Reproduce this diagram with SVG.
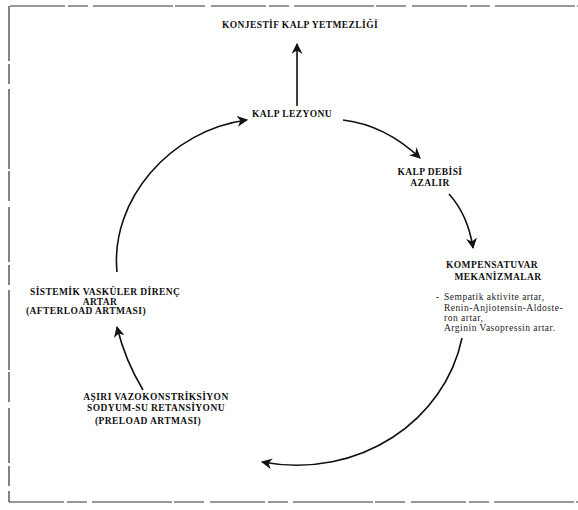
<svg xmlns="http://www.w3.org/2000/svg" width="578" height="510" viewBox="0 0 578 510">
<defs>
<marker id="ah" viewBox="0 0 10 10" refX="9" refY="5" markerWidth="11" markerHeight="11" markerUnits="userSpaceOnUse" orient="auto">
<path d="M0,0 L10,5 L0,10 L3,5 Z" fill="#111"/>
</marker>
</defs>
<style>
.t{font-family:"Liberation Serif","DejaVu Serif",serif;font-size:9.5px;font-weight:bold;letter-spacing:0.4px;fill:#111}
.n{font-family:"Liberation Serif","DejaVu Serif",serif;font-size:9.5px;letter-spacing:0.5px;fill:#222}
.c{fill:none;stroke:#111;stroke-width:1.6;marker-end:url(#ah)}
.b{fill:none;stroke:#333;stroke-width:1.2;stroke-dasharray:55 3 20 5 80 2 30 6}
</style>
<rect width="578" height="510" fill="#fff"/>
<g id="border">
<path class="b" d="M10,6 H578"/>
<path class="b" d="M9,6 V502"/>
<path class="b" d="M9,502 H578"/>
</g>
<g id="connectors">
<path class="c" d="M297,106 V44"/>
<path class="c" d="M343,120 Q385,125 420,158"/>
<path class="c" d="M449,194 Q468,215 473,248"/>
<path class="c" d="M462,338 C445,420 360,480 262,462"/>
<path class="c" d="M143,390 Q125,360 117,327"/>
<path class="c" d="M117,272 C110,200 170,130 247,120"/>
</g>
<g id="n-konjestif"><text class="t" x="300" y="28" text-anchor="middle">KONJESTİF KALP YETMEZLİĞİ</text></g>
<g id="n-lezyon"><text class="t" x="292" y="117" text-anchor="middle">KALP LEZYONU</text></g>
<g id="n-debi"><text class="t" x="430" y="175" text-anchor="middle">KALP DEBİSİ</text><text class="t" x="430" y="186" text-anchor="middle">AZALIR</text></g>
<g id="n-kompens">
<text class="t" x="492" y="268" text-anchor="middle">KOMPENSATUVAR</text>
<text class="t" x="498" y="280" text-anchor="middle">MEKANİZMALAR</text>
<text class="n" x="436" y="300">-</text>
<text class="n" x="444" y="300">Sempatik aktivite artar,</text>
<text class="n" x="444" y="311">Renin-Anjiotensin-Aldoste-</text>
<text class="n" x="444" y="321">ron artar,</text>
<text class="n" x="444" y="331">Arginin Vasopressin artar.</text>
</g>
<g id="n-sistemik">
<text class="t" x="30" y="295">SİSTEMİK VASKÜLER DİRENÇ</text>
<text class="t" x="100" y="305" text-anchor="middle">ARTAR</text>
<text class="t" x="26" y="314">(AFTERLOAD ARTMASI)</text>
</g>
<g id="n-asiri">
<text class="t" x="156" y="400" text-anchor="middle">AŞIRI VAZOKONSTRİKSİYON</text>
<text class="t" x="156" y="411" text-anchor="middle">SODYUM-SU RETANSİYONU</text>
<text class="t" x="148" y="424" text-anchor="middle">(PRELOAD ARTMASI)</text>
</g>
</svg>
